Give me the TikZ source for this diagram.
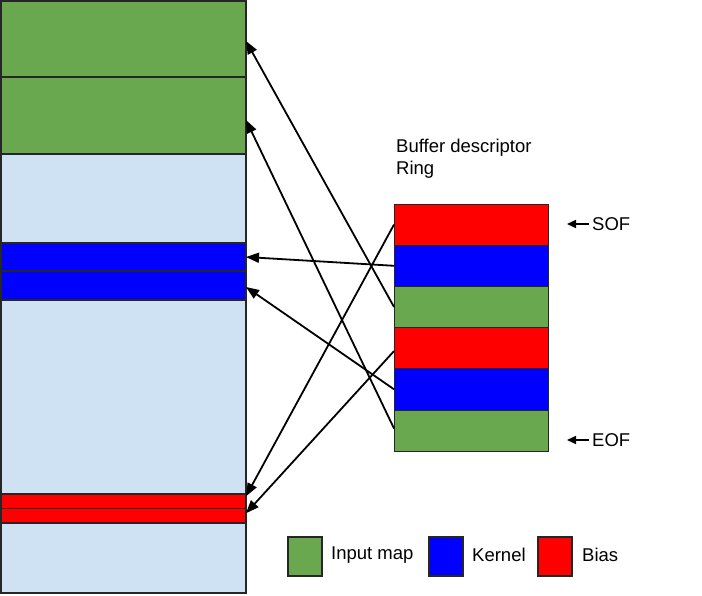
\documentclass[tikz,border=0pt]{standalone}
\usepackage{fontspec}
\setmainfont{Liberation Sans}
\usetikzlibrary{arrows.meta}
\definecolor{cgreen}{HTML}{6AA84F}
\definecolor{clblue}{HTML}{CFE2F3}
\definecolor{cblue}{HTML}{0000FF}
\definecolor{cred}{HTML}{FF0000}
\tikzset{
  memcell/.style={draw=black!85, line width=1.4pt, minimum width=245pt, inner sep=0pt, outer sep=0pt},
  ringcell/.style={draw=black!85, line width=0.5pt, minimum width=154pt, minimum height=41.17pt, inner sep=0pt, outer sep=0pt},
  legbox/.style={draw=black!85, line width=1.3pt, minimum width=34pt, minimum height=39pt, inner sep=0pt, outer sep=0pt},
  lbl/.style={font=\fontsize{18.5}{22}\selectfont, inner sep=0pt, text=black},
  conn/.style={line width=1.8pt, -{Triangle[length=13pt,width=10pt]}},
  smallarrow/.style={line width=1.5pt, -{Triangle[length=9pt,width=8pt]}}
}
\begin{document}
\begin{tikzpicture}[x=1pt,y=-1pt]
\useasboundingbox (0,0) rectangle (702,596);
% memory column
\node[memcell, fill=cgreen,  minimum height=76pt]  (g1)  at (123.5,39) {};
\node[memcell, fill=cgreen,  minimum height=77pt]  (g2)  at (123.5,115.5) {};
\node[memcell, fill=clblue,  minimum height=89pt]  (lb1) at (123.5,198.5) {};
\node[memcell, fill=cblue,   minimum height=28pt]  (b1)  at (123.5,257) {};
\node[memcell, fill=cblue,   minimum height=29pt]  (b2)  at (123.5,285.5) {};
\node[memcell, fill=clblue,  minimum height=194pt] (lb2) at (123.5,397) {};
\node[memcell, fill=cred,    minimum height=14.5pt] (r1) at (123.5,501.25) {};
\node[memcell, fill=cred,    minimum height=14.5pt] (r2) at (123.5,515.75) {};
\node[memcell, fill=clblue,  minimum height=70pt]  (lb3) at (123.5,558) {};
% ring
\node[lbl, anchor=base west] (title1) at (396,152.7) {Buffer descriptor};
\node[lbl, anchor=base west] (title2) at (396,174.3) {Ring};
\node[ringcell, fill=cred]   (q1) at (471,224.6) {};
\node[ringcell, fill=cblue]  (q2) at (471,265.8) {};
\node[ringcell, fill=cgreen] (q3) at (471,306.9) {};
\node[ringcell, fill=cred]   (q4) at (471,348.1) {};
\node[ringcell, fill=cblue]  (q5) at (471,389.3) {};
\node[ringcell, fill=cgreen] (q6) at (471,430.4) {};
% connectors
\draw[conn] (q3.west) -- ([yshift=-2pt]g1.east);
\draw[conn] ([yshift=2pt]q6.west) -- ([yshift=-4.5pt]g2.east);
\draw[conn] (q2.west) -- (b1.east);
\draw[conn] (q5.west) -- ([yshift=-1.5pt]b2.east);
\draw[conn] (q1.west) -- ([yshift=5pt]r1.east);
\draw[conn] ([yshift=-3pt]q4.west) -- ([yshift=2.5pt]r2.east);
% SOF / EOF
\node[lbl, anchor=west] (sof) at (592,224) {SOF};
\node[lbl, anchor=west] (eof) at (592,440) {EOF};
\coordinate (sofend) at (567,224);
\coordinate (eofend) at (567,440);
\draw[smallarrow] ([xshift=-3pt]sof.west) -- (sofend);
\draw[smallarrow] ([xshift=-3pt]eof.west) -- (eofend);
% legend
\node[legbox, fill=cgreen] (lg) at (305,556.5) {};
\node[lbl, anchor=west] (lgt) at (331,555) {Input map};
\node[legbox, fill=cblue] (lk) at (446,556.5) {};
\node[lbl, anchor=west] (lkt) at (472,555) {Kernel};
\node[legbox, fill=cred] (lr) at (555,556.5) {};
\node[lbl, anchor=west] (lrt) at (582,555) {Bias};
\end{tikzpicture}
\end{document}
